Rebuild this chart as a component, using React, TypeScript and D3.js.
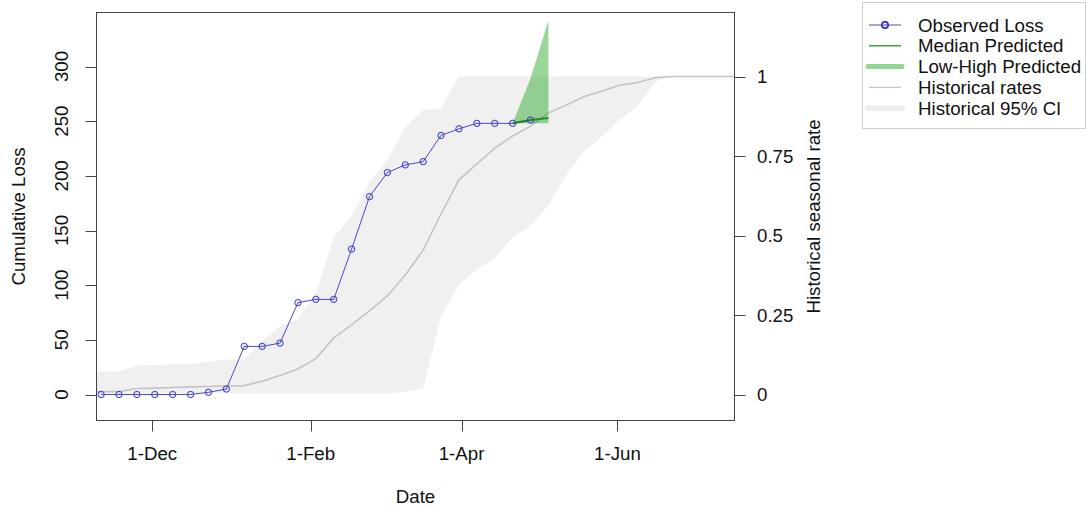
import React from "react";
import * as d3 from "d3";

// Weekly observed cumulative loss
const obsDates = [
  "2018-11-11", "2018-11-18", "2018-11-25", "2018-12-02", "2018-12-09",
  "2018-12-16", "2018-12-23", "2018-12-30", "2019-01-06", "2019-01-13",
  "2019-01-20", "2019-01-27", "2019-02-03", "2019-02-10", "2019-02-17",
  "2019-02-24", "2019-03-03", "2019-03-10", "2019-03-17", "2019-03-24",
  "2019-03-31", "2019-04-07", "2019-04-14", "2019-04-21", "2019-04-28",
];
const obsLoss = [
  0, 0, 0, 0, 0, 0, 2, 5, 44, 44, 47, 84, 87, 87, 133, 181, 203, 210, 213,
  237, 243, 248, 248, 248, 251,
];

// Forecast
const predDates = ["2019-04-21", "2019-04-28", "2019-05-05"];
const predMedian = [248, 251, 253];
const predLow = [248, 248, 248];
const predHigh = [248, 289, 342];

// Historical seasonal rates (weekly)
const histDates = [
  "2018-11-04", "2018-11-11", "2018-11-18", "2018-11-25", "2018-12-02",
  "2018-12-09", "2018-12-16", "2018-12-23", "2018-12-30", "2019-01-06",
  "2019-01-13", "2019-01-20", "2019-01-27", "2019-02-03", "2019-02-10",
  "2019-02-17", "2019-02-24", "2019-03-03", "2019-03-10", "2019-03-17",
  "2019-03-24", "2019-03-31", "2019-04-07", "2019-04-14", "2019-04-21",
  "2019-04-28", "2019-05-05", "2019-05-12", "2019-05-19", "2019-05-26",
  "2019-06-02", "2019-06-09", "2019-06-16", "2019-06-23", "2019-06-30",
  "2019-07-07", "2019-07-14", "2019-07-21",
];
const histRate = [
  0.009, 0.009, 0.009, 0.019, 0.02, 0.022, 0.024, 0.025, 0.027, 0.028,
  0.042, 0.06, 0.08, 0.113, 0.178, 0.219, 0.263, 0.31, 0.376, 0.454,
  0.568, 0.675, 0.725, 0.775, 0.813, 0.844, 0.885, 0.91, 0.937, 0.954,
  0.973, 0.981, 0.997, 1, 1, 1, 1, 1,
];
const histLow = [
  0.004, 0.004, 0.004, 0.004, 0.004, 0.004, 0.004, 0.004, 0.004, 0.004,
  0.004, 0.004, 0.004, 0.004, 0.004, 0.004, 0.004, 0.004, 0.008, 0.019,
  0.247, 0.344, 0.395, 0.428, 0.495, 0.53, 0.595, 0.69, 0.765, 0.812,
  0.865, 0.908, 0.985, 1, 1, 1, 1, 1,
];
const histHigh = [
  0.072, 0.072, 0.072, 0.092, 0.093, 0.094, 0.096, 0.103, 0.11, 0.111,
  0.168, 0.215, 0.237, 0.316, 0.495, 0.561, 0.668, 0.738, 0.841, 0.895,
  0.9, 1, 1, 1, 1, 1, 1, 1, 1, 1, 1, 1, 1, 1, 1, 1, 1, 1,
];

// Axis ticks
const lossTicks = [0, 50, 100, 150, 200, 250, 300];
const rateTicks = [0, 0.25, 0.5, 0.75, 1];
const rateTickLabels = ["0", "0.25", "0.5", "0.75", "1"];
const dateTicks = ["2018-12-01", "2019-02-01", "2019-04-01", "2019-06-01"];
const dateTickLabels = ["1-Dec", "1-Feb", "1-Apr", "1-Jun"];

const legendItems = [
  "Observed Loss",
  "Median Predicted",
  "Low-High Predicted",
  "Historical rates",
  "Historical 95% CI",
];

const W = 1086;
const H = 509;
const box = { left: 96.5, right: 734.5, top: 12.5, bottom: 420.5 };
const FONT = "'Liberation Sans', Arial, Helvetica, sans-serif";
const FS = 18.7;
const TXT = "#111";
const AXIS = "#444";

const parse = (s: string) => {
  const [y, m, d] = s.split("-").map(Number);
  return new Date(Date.UTC(y, m - 1, d));
};

export default function App() {
  const x = d3
    .scaleUtc()
    .domain([parse("2018-11-09"), parse("2019-07-17")])
    .range([box.left - 0.5, box.right + 0.5]);
  const yLoss = d3.scaleLinear().domain([0, 300]).range([394.5, 66.5]);
  const yRate = d3.scaleLinear().domain([0, 1]).range([394.5, 76.5]);

  const hist = histDates.map((d, i) => ({
    t: parse(d),
    r: histRate[i],
    lo: histLow[i],
    hi: histHigh[i],
  }));
  const obs = obsDates.map((d, i) => ({ t: parse(d), v: obsLoss[i] }));
  const pred = predDates.map((d, i) => ({
    t: parse(d),
    m: predMedian[i],
    lo: predLow[i],
    hi: predHigh[i],
  }));

  const bandPath = d3
    .area<(typeof hist)[number]>()
    .x((d) => x(d.t))
    .y0((d) => yRate(d.lo))
    .y1((d) => yRate(d.hi))(hist)!;
  const histLine = d3
    .line<(typeof hist)[number]>()
    .x((d) => x(d.t))
    .y((d) => yRate(d.r))(hist)!;
  const predBand = d3
    .area<(typeof pred)[number]>()
    .x((d) => x(d.t))
    .y0((d) => yLoss(d.lo))
    .y1((d) => yLoss(d.hi))(pred)!;
  const predLine = d3
    .line<(typeof pred)[number]>()
    .x((d) => x(d.t))
    .y((d) => yLoss(d.m))(pred)!;
  const obsLine = d3
    .line<(typeof obs)[number]>()
    .x((d) => x(d.t))
    .y((d) => yLoss(d.v))(obs)!;

  const midY = (box.top + box.bottom) / 2;
  const legX = 863;
  const legRow0 = 25;
  const legStep = 20.8;

  return (
    <svg
      width={W}
      height={H}
      style={{ position: "absolute", left: 0, top: 0, background: "#fff" }}
      fontFamily={FONT}
    >
      <defs>
        <clipPath id="plotClip">
          <rect
            x={box.left}
            y={box.top}
            width={box.right - box.left}
            height={box.bottom - box.top}
          />
        </clipPath>
      </defs>

      <g clipPath="url(#plotClip)">
        <path d={bandPath} fill="#f0f0f0" stroke="none" />
        <path d={histLine} fill="none" stroke="#c4c4c4" strokeWidth={1.6} />
        <path d={predBand} fill="rgba(30,165,30,0.45)" stroke="none" />
        <path d={obsLine} fill="none" stroke="#4a4ac4" strokeWidth={1} />
        <path
          d={predLine}
          fill="none"
          stroke="#0a8a0a"
          strokeWidth={2}
          strokeOpacity={0.85}
        />
        {obs.map((d, i) => (
          <circle
            key={i}
            cx={x(d.t)}
            cy={yLoss(d.v)}
            r={3.2}
            fill="rgba(90,90,220,0.12)"
            stroke="#3c3cc0"
            strokeWidth={1}
          />
        ))}
      </g>

      {/* frame */}
      <rect
        x={box.left}
        y={box.top}
        width={box.right - box.left}
        height={box.bottom - box.top}
        fill="none"
        stroke={AXIS}
        strokeWidth={1}
      />

      {/* left axis */}
      {lossTicks.map((v) => (
        <g key={v}>
          <line
            x1={box.left - 11}
            x2={box.left}
            y1={Math.round(yLoss(v)) + 0.5}
            y2={Math.round(yLoss(v)) + 0.5}
            stroke={AXIS}
          />
          <text
            transform={`translate(${61.5},${yLoss(v)}) rotate(-90)`}
            textAnchor="middle"
            dominantBaseline="central"
            fontSize={FS}
            fill={TXT}
          >
            {v}
          </text>
        </g>
      ))}
      <text
        transform={`translate(${18.5},${midY}) rotate(-90)`}
        textAnchor="middle"
        dominantBaseline="central"
        fontSize={FS}
        fill={TXT}
      >
        Cumulative Loss
      </text>

      {/* right axis */}
      {rateTicks.map((v, i) => (
        <g key={v}>
          <line
            x1={box.right}
            x2={box.right + 11}
            y1={Math.round(yRate(v)) + 0.5}
            y2={Math.round(yRate(v)) + 0.5}
            stroke={AXIS}
          />
          <text
            x={757}
            y={yRate(v)}
            dominantBaseline="central"
            fontSize={FS}
            fill={TXT}
          >
            {rateTickLabels[i]}
          </text>
        </g>
      ))}
      <text
        transform={`translate(${813},${midY}) rotate(-90)`}
        textAnchor="middle"
        dominantBaseline="central"
        fontSize={FS}
        fill={TXT}
      >
        Historical seasonal rate
      </text>

      {/* bottom axis */}
      {dateTicks.map((d, i) => {
        const px = Math.round(x(parse(d))) + 0.5;
        return (
          <g key={d}>
            <line
              x1={px}
              x2={px}
              y1={box.bottom}
              y2={box.bottom + 11}
              stroke={AXIS}
            />
            <text
              x={x(parse(d))}
              y={453}
              textAnchor="middle"
              dominantBaseline="central"
              fontSize={FS}
              fill={TXT}
            >
              {dateTickLabels[i]}
            </text>
          </g>
        );
      })}
      <text
        x={(box.left + box.right) / 2}
        y={496}
        textAnchor="middle"
        dominantBaseline="central"
        fontSize={FS}
        fill={TXT}
      >
        Date
      </text>

      {/* legend */}
      <rect
        x={legX - 0.5}
        y={2.5}
        width={W - legX}
        height={126}
        fill="#fff"
        stroke="#cfcfcf"
        strokeWidth={1}
      />
      {legendItems.map((label, i) => {
        const cy = legRow0 + i * legStep;
        const x1 = 869;
        const x2 = 901;
        let sym: React.ReactNode = null;
        if (i === 0) {
          sym = (
            <g>
              <line x1={x1} x2={x2} y1={cy} y2={cy} stroke="#4a4ac4" strokeWidth={1} />
              <circle
                cx={(x1 + x2) / 2}
                cy={cy}
                r={3.2}
                fill="rgba(90,90,220,0.12)"
                stroke="#1e1eb0"
                strokeWidth={1.4}
              />
            </g>
          );
        } else if (i === 1) {
          sym = <line x1={x1} x2={x2} y1={cy} y2={cy} stroke="#1a9a1a" strokeWidth={1.3} />;
        } else if (i === 2) {
          sym = (
            <line
              x1={x1 - 1}
              x2={x2 + 1}
              y1={cy}
              y2={cy}
              stroke="#92d692"
              strokeWidth={5}
              strokeLinecap="round"
            />
          );
        } else if (i === 3) {
          sym = <line x1={x1} x2={x2} y1={cy} y2={cy} stroke="#c4c4c4" strokeWidth={1.3} />;
        } else {
          sym = (
            <line
              x1={x1 - 1}
              x2={x2 + 1}
              y1={cy}
              y2={cy}
              stroke="#eeeeee"
              strokeWidth={6}
              strokeLinecap="round"
            />
          );
        }
        return (
          <g key={label}>
            {sym}
            <text
              x={918}
              y={cy}
              dominantBaseline="central"
              fontSize={FS}
              fill={TXT}
            >
              {label}
            </text>
          </g>
        );
      })}
    </svg>
  );
}
